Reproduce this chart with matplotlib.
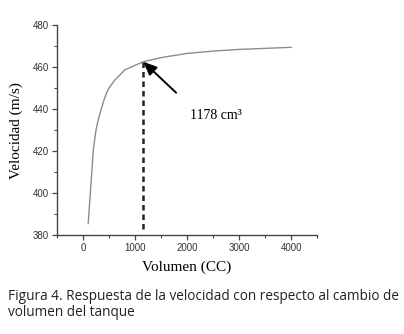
import numpy as np
import matplotlib
matplotlib.use("Agg")
from matplotlib import pyplot as plt
from matplotlib.ticker import MultipleLocator

# Volume (cc) vs velocity (m/s)
volumen = [100, 200, 250, 300, 350, 400, 450, 500, 600, 700, 800, 1000, 1160, 1500, 2000, 2500, 3000, 3500, 4000]
velocidad = [385.5, 421.0, 430.0, 435.5, 440.0, 444.0, 447.5, 450.0, 453.5, 456.0, 458.6, 460.8, 462.5, 464.5, 466.5, 467.6, 468.4, 468.9, 469.4]

marca_x = 1160      # where the dashed marker sits
marca_label = "1178 cm³"
caption = ["Figura 4. Respuesta de la velocidad con respecto al cambio de",
           "volumen del tanque"]

fig = plt.figure(figsize=(4.04, 3.34), dpi=100)
ax = fig.add_axes([0.141, 0.296, 0.644, 0.629])

ax.plot(volumen, velocidad, color="#8c8c8c", lw=1.0)

# dashed vertical marker down from the curve
marca_y = np.interp(marca_x, volumen, velocidad)
ax.plot([marca_x, marca_x], [383, marca_y], color="#222222", lw=1.8,
        linestyle=(0, (2.2, 1.6)))

# arrow from below-right pointing at the marker
ax.annotate("", xy=(marca_x, marca_y), xytext=(1790, 447.8),
            arrowprops=dict(arrowstyle="-|>,head_length=0.8,head_width=0.35",
                            color="black", lw=1.4, shrinkA=0, shrinkB=0))
ax.text(2560, 437, marca_label, fontsize=10, family="Liberation Serif",
        ha="center", va="center")

ax.set_xlim(-500, 4500)
ax.set_ylim(380, 480)
ax.xaxis.set_major_locator(MultipleLocator(1000))
ax.xaxis.set_minor_locator(MultipleLocator(500))
ax.yaxis.set_major_locator(MultipleLocator(20))
ax.yaxis.set_minor_locator(MultipleLocator(10))

for s in ["top", "right"]:
    ax.spines[s].set_visible(False)
for s in ["left", "bottom"]:
    ax.spines[s].set_color("#444444")
    ax.spines[s].set_linewidth(1.0)

ax.tick_params(which="major", direction="out", length=3.5, width=0.9,
               color="#444444", labelsize=7, labelcolor="#333333", pad=2.5)
ax.tick_params(which="minor", direction="out", length=2, width=0.8, color="#444444")
for lbl in ax.get_xticklabels() + ax.get_yticklabels():
    lbl.set_family("Liberation Sans")

ax.set_xlabel("Volumen (CC)", family="Liberation Serif", fontsize=11, labelpad=5)
ax.set_ylabel("Velocidad (m/s)", family="Liberation Serif", fontsize=11, labelpad=7)

fig.text(0.02, 1 - 296 / 334, caption[0], family="Open Sans", fontsize=9.8,
         color="#222222", va="center")
fig.text(0.02, 1 - 313 / 334, caption[1], family="Open Sans", fontsize=9.8,
         color="#222222", va="center")

fig.savefig("out.png", dpi=100)
